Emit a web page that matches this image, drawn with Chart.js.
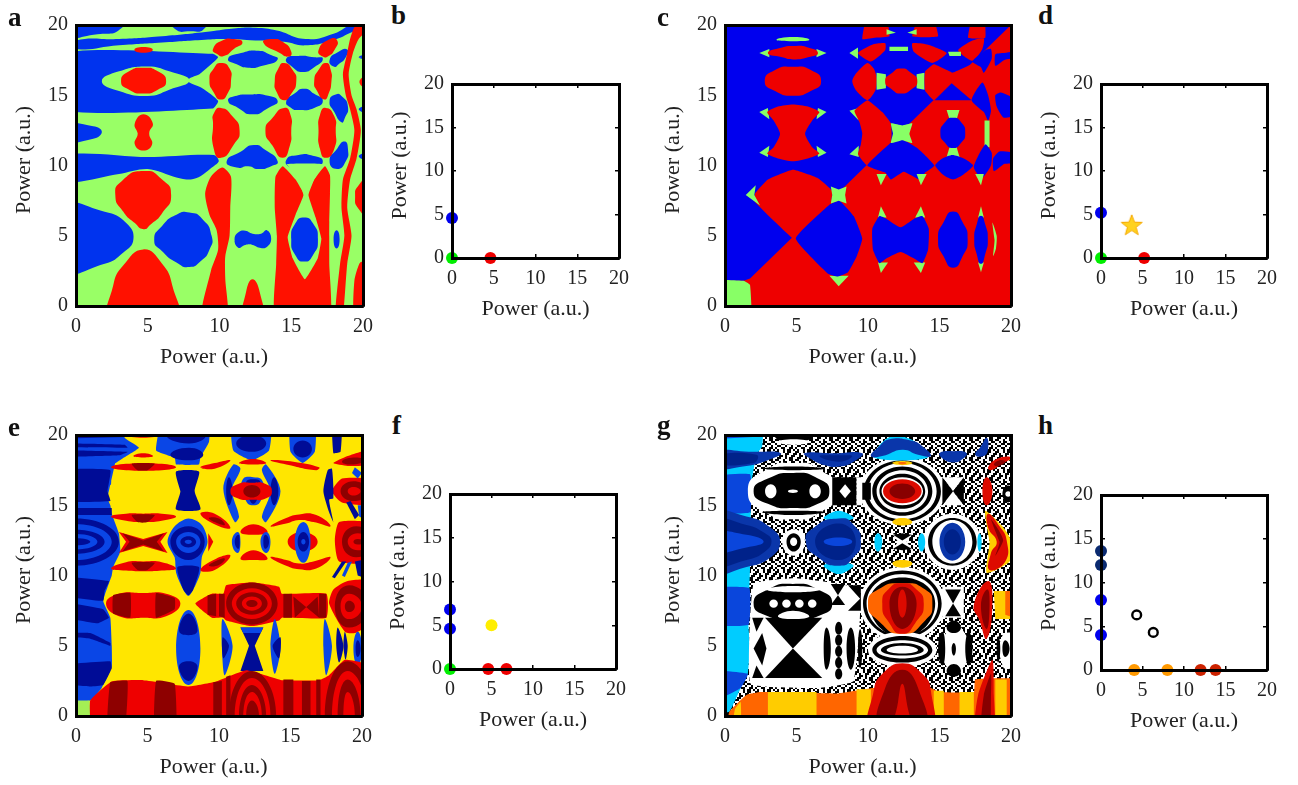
<!DOCTYPE html>
<html><head><meta charset="utf-8">
<style>
html,body{margin:0;padding:0;background:#fff;width:1298px;height:785px;overflow:hidden}
canvas{position:absolute;filter:blur(0.5px)}
.lab{position:absolute;font:bold 27px "Liberation Serif",serif;color:#111;line-height:27px}
</style>
<script src="https://cdn.jsdelivr.net/npm/chart.js@4"></script>
</head><body>
<script>
const axisTicks=[0,5,10,15,20];
const axisTitle="Power (a.u.)";
const panelLetters=["a","b","c","d","e","f","g","h"];
const FULL=[-1,-1,21,-1,21,21,-1,21];

const coloursA={G:"#99FF66",B:"#0033EE",R:"#FF1100"};
const regionsA=[
["G",FULL,0],
["B",[-1,19.35,1.5,19.35,3.2,19.8,3.4,21,-1,21]],
["B",[6.3,21,6.8,19.8,8,19.55,9,19.8,9.3,21]],
["B",[0,18.9,3,19,6,19.2,9,19.5,11,19.75,12.5,19.8,14,19.6,16,19,18,19.4,19.3,20.1,20.5,20.3,20.5,19.9,19.5,19.6,18,18.95,16,18.55,14.5,18.8,12.5,18.9,10.5,19,9,18.95,6,18.75,3,18.55,0,18.3],0.5],
["B",[-1,17.95,9.5,17.95,9.9,17.7,9.3,17.1,8.6,16.5,7.9,16.2,7.9,15.9,8.8,15.5,9.9,14.6,9.5,14.05,-1,14],0.2],
["G",[1.8,16,3,16.7,5,17.05,6.5,16.7,7.9,16.05,6.5,15.4,5,14.95,3,15.3],0.5],
["B",[-1,10.7,5,10.6,9.6,10.75,9.95,10.3,9.4,9.8,8.7,9.25,8,9,7,9.15,5,9.75,3,9.4,-1,8.85],0.3],
["B",[-1,7.05,2,6.7,3.5,5.9,4,4.75,3.3,3.8,2,3,-1,2.55],0.5],
["B",[5.45,4.7,6,5.7,7,6.5,7.9,6.65,8.8,6.2,9.45,5,9.3,4,8.7,3.2,7.9,2.77,7,3.1,6,3.9]],
["B",[11.05,4.8,11.4,5.3,11.8,5.35,12.3,5.15,12.9,5.15,13.3,5.4,13.6,4.8,13.3,4.2,12.8,4.15,12.3,4.35,11.8,4.35,11.3,4.15],0.5],
["B",[10.6,17.6,11.5,18,12.7,18.17,13.5,17.9,14.05,17.55,13,17.1,12,16.95,11.2,17.2]],
["B",[14.65,17.6,15.5,17.8,16.6,17.7,17.2,17.6,16.6,17,15.8,16.66,15.1,17]],
["B",[17.67,17.5,18.3,18.1,18.9,18.25,18.8,17.7,18.3,17.2,18,17.03]],
["B",[10.6,14.6,11.1,14.95,12.2,15.05,13.2,15,14.05,14.6,13.4,14.1,12.3,13.64,11.3,14.1]],
["B",[14.65,14.55,15.2,15.1,15.9,15.47,16.6,15.1,17.2,14.6,16.6,14.1,15.5,13.95,15,14.1]],
["B",[17.67,14.6,18.1,15.05,18.5,14.95,18.95,14.2,18.7,13.3,18.5,13.07,18,13.8]],
["B",[10.5,10.3,11.5,11,12.4,11.46,13.2,11.1,14.05,10.3,13.6,9.95,12.7,9.75,12,9.95,11.2,9.85]],
["B",[14.65,10.4,15.5,10.75,16.5,10.7,17.2,10.3,16.5,9.75,15.8,9.6,15,9.8]],
["B",[17.67,10.3,18.2,11.2,18.7,11.7,18.95,11.2,18.8,10.3,18.2,9.75]],
["B",[-1,12.9,1.2,12.8,1.8,12.4,1.2,11.9,-1,11.76],0.5],
["B",[19.7,17.7,20.5,17.9,20.5,17.6]],
["B",[19.7,14,20.5,14.2,20.5,13.75]],
["B",[19.7,10.65,20.5,10.9,20.5,10.4]],
["R",[4.07,18.24,4.7,18.44,5.35,18.24,4.7,18.03]],
["R",[9.55,18.3,10.2,18.9,11,19,11.6,18.75,11,18.3,10.3,17.8,9.8,17.95]],
["R",[13.05,18.75,13.7,19,14.4,18.8,15,18.1,14.8,17.75,14.2,18]],
["R",[16.9,18.2,17.6,18.95,18.2,18.9,18,18.2,17.6,17.8,17.2,17.75]],
["R",[19.5,20,19.1,19,18.9,18,18.6,16.5,18.8,15,19.1,14,19.4,12.5,19.1,10.5,18.6,9,18.5,7,18.7,5,18.4,3,18.05,-1,18.55,-1,18.9,3,19.2,5,18.9,7,19.1,9,19.55,10.5,19.85,12.5,19.55,14,19.2,15,19,16.5,19.3,18,19.7,19,20.5,19.8,20.5,20],0.2],
["R",[19.75,15.95,20.5,16.4,20.5,15.5]],
["R",[19.4,-1,19.4,1.8,19.8,3.1,20.5,3.2,20.5,-1],0.2],
["R",[20.5,9.2,19.7,8.6,19.45,7.8,19.7,6.9,20.5,6.3]],
["R",[9.3,16.1,9.6,16.9,10.1,17.3,10.7,16.9,10.8,16,10.6,15.2,10.1,14.7,9.6,15.2]],
["R",[13.85,16,14.1,16.9,14.5,17.3,15.1,16.8,15.35,16,15,15.1,14.5,14.65,14,15.2]],
["R",[16.6,16,16.9,16.8,17.45,17.3,17.75,16.8,17.8,16,17.6,15.1,17.3,14.7,16.8,15.3]],
["R",[9.55,13,9.6,13.7,10.1,14.1,10.9,13.5,11.4,12.5,11,11.5,10.1,10.55,9.6,11.2]],
["R",[13.2,12.5,13.7,13.4,14.5,14.1,14.95,13.6,15,12.5,14.9,11.4,14.4,10.55,13.7,11.4]],
["R",[16.9,12.5,17,13.6,17.4,14.1,18,13.5,18.1,12.5,18,11.2,17.4,10.55,17,11.2]],
["R",[4.1,13,4.7,13.64,5.35,13,5.1,12.3,5.3,11.5,4.7,11.07,4.1,11.5,4.3,12.3],0.5],
["R",[3.14,16,3.7,16.7,4.7,16.96,5.7,16.7,6.28,16,5.7,15.4,4.7,15.13,3.7,15.4]],
["R",[2.74,7.9,3.2,8.9,4.7,9.6,6,9,6.63,7.9,6,6.6,5.2,5.8,4.7,5.47,4.1,5.9,3.3,6.7]],
["R",[2.45,-1,2.6,1.5,3.3,2.9,4.7,4.03,6,3,6.7,1.5,6.95,-1],0.5],
["R",[10.2,9.85,9.4,9.2,9,8,9.3,6.5,9.8,5.4,9.9,4,9.4,2.5,8.75,-1,10.5,-1,10.4,2,10.4,3.5,10.7,5,10.75,7,10.8,9.2],0.25],
["R",[11.7,-1,11.85,1,12.3,1.9,12.8,1,12.95,-1],0.5],
["R",[14.4,9.95,13.9,9.2,13.85,7,14,5,13.95,3,13.9,-1,17.67,-1,17.65,3,17.65,6,17.7,8,17.7,9.3,17.35,9.95,16.6,9,16,7.9,15.3,9],0.15],
["G",[14.7,10.1,15.4,9.2,15.85,7.9,15.3,6.5,14.75,4.9,15.1,3.4,15.95,1.9,16.85,3.4,17.1,4.8,16.7,6.3,16.2,7.9,16.6,9,17.2,10.1],0.1],
["B",[15,4.75,15.3,5.9,15.9,6.3,16.5,5.9,16.86,4.75,16.5,3.6,15.9,3.16,15.3,3.6]],
["B",[17.95,4.75,18.16,5.4,18.37,4.75,18.16,4.1]]
];

const coloursC={G:"#88FF66",B:"#0000EE",R:"#EE0000"};
const regionsC=[
["R",FULL,0],
["B",[-1,1.8,1.3,1.8,1.75,1.95,2.2,2.4,20.2,20.2,20.2,21,-1,21],0],
["G",[-1,-1,-1,1.8,1.3,1.8,1.75,1.5,1.8,-1],0.1],
["R",[4.8,4.75,2.1,7.4,2.1,8,3,9,4.75,9.7,6.5,9.1,7.5,8.2,7.4,7.4,5,5],0.12],
["G",[1.45,7.9,2.15,8.6,2.05,7.9,2.45,7.15],0],
["G",[7.3,2.15,8.65,2.15,7.95,1.4],0],
["B",[4.95,4.8,7.3,7.2,8,7.5,9,6.4,9.6,4.8,9.2,3.5,8.6,2.4,7.9,2.1,7.2,2.3],0.12],
["G",[7.4,8.5,7.95,8.3,8.5,8.5,8.4,7.9,8.5,7.3,7.95,7.5,7.4,7.3,7.5,7.9],0],
["G",[3.6,18.95,4.8,19.15,5.9,18.95,4.8,18.85]],
["G",[2.4,18,3.1,18.3,3.1,17.7],0],["G",[7.1,18,6.4,18.3,6.4,17.7],0],
["R",[3,18,4,18.4,4.8,18.5,5.8,18.4,6.5,18,5.8,17.7,4.8,17.55,4,17.7]],
["R",[2.78,16,3.5,16.8,4.75,17.03,6,16.8,6.72,16,6,15.3,4.75,14.97,3.5,15.3]],
["G",[2.4,13.8,3,14.1,3.1,13.3],0],["G",[7.1,13.8,6.5,14.1,6.4,13.3],0],["G",[2.4,10.9,3.1,11.4,3,10.6],0],["G",[7.1,10.9,6.4,11.4,6.5,10.6],0],
["R",[2.95,13.8,3.7,14.2,4.75,14.35,5.8,14.2,6.6,13.8,6.1,13.2,5.6,12.25,6.1,11.3,6.6,10.85,5.8,10.5,4.75,10.3,3.7,10.5,2.95,10.85,3.4,11.3,3.85,12.25,3.4,13.2],0.2],
["R",[9.6,19,10.5,19.1,11.5,19.2,11.2,21,10,21],0.1],
["G",[11.3,19.7,11.95,19.45,11.3,19.3],0],
["R",[13.1,19.2,14.9,19.2,14.4,21,13.7,21],0.1],
["G",[12.75,19.45,13.4,19.7,13.4,19.3],0],
["R",[17,19.1,18.2,19.1,18.1,21,17.4,21],0.1],
["G",[8.7,18,9.3,18.4,9.3,17.6],0],
["R",[9.3,18,10.3,18.6,11.2,18.7,11.2,18.2,10.2,17.4],0.2],
["R",[13.1,18.7,14.2,18.6,15.5,18,14.5,17.3,13.2,18.1],0.2],
["R",[16.3,18.2,17.3,18.9,18.1,19.05,18,18.3,17.3,17.45],0.2],
["G",[11.5,18.45,12.8,18.45,12.8,18.15,11.5,18.15],0],
["G",[15.6,18.1,16.5,18.1,16.5,17.8,15.7,17.8],0],
["R",[9.96,17.3,9.2,16.6,8.9,16,9.2,15.3,9.96,14.65,10.5,15.3,10.6,15.8,10.6,16.3,10.4,16.9],0.25],
["G",[10.6,16.6,11.25,16.5,11.25,15.5,10.6,15.4],0],
["G",[13.4,16.5,13.95,16.6,13.95,15.4,13.4,15.5],0],
["R",[11.2,16,11.7,16.6,12.3,16.9,13,16.6,13.45,16,13,15.4,12.3,15.13,11.7,15.4]],
["R",[14.6,17.2,15.9,16.6,17.3,17.2,17.8,16.5,17.75,15.8,17.3,14.65,16.2,15.3,15.7,15.7,14.6,14.65,14,15.3,13.95,16,14,16.7],0.1],
["B",[15.85,15.85,17.25,14.65,14.65,14.65],0],
["G",[8.7,13.9,9.35,14.1,9.35,13.2],0],["G",[8.7,10.8,9.35,11.4,9.35,10.6],0],
["R",[9.96,14.65,11,13.8,11.6,13,11.65,12.3,11.6,11.65,9.96,10,9.3,10.8,9.5,11.5,9.6,12.3,9.4,13.1,9.05,13.9],0.12],
["B",[9.95,10,11.7,11.7,12.4,11.85,13.5,11.2,14.65,10,14,9.5,13.6,9,12.5,9.55,11.6,9,11.2,9.5],0.12],
["G",[11.6,13,12.4,12.85,13.1,13,12.9,12.25,13.1,11.6,12.4,11.8,11.6,11.6,11.75,12.3],0.1],
["G",[15.5,13.95,16.4,13.95,16.2,13.3,15.7,13.3],0],["G",[15.5,10.6,16.4,10.6,16.2,11.3,15.7,11.3],0],
["G",[18.15,13.2,18.5,13.2,18.5,11.3,18.15,11.3],0],
["B",[15.06,12.3,15.4,13.1,15.93,13.4,16.5,13.1,16.8,12.3,16.5,11.6,15.93,11.24,15.4,11.6]],
["B",[14.7,10,15.2,10.5,15.9,10.75,16.7,10.5,17.35,10,16.6,9.3,15.95,9,15.3,9.3],0.2],
["B",[17.4,9.9,18.2,11.5,18.65,10.9,18.6,10,17.95,9.1],0.2],
["B",[18.8,9.6,18.75,10.5,19.2,11,20.5,10.8,20.5,10.2,19.5,10.1],0.2],
["B",[17.25,14.65,18,15.9,18.4,15,18.6,13.9,18.4,13.2,18.1,13.8],0.2],
["B",[18.9,15,19.3,15.2,20.5,14.6,20.5,13.7,19.5,13.4,19,14.2],0.2],
["B",[17.3,17.4,17.9,17,18.1,16.6,18.65,17.6,18.6,18.3,18.2,18.2],0.2],
["B",[18.9,17.1,18.9,17.9,19.4,18,20.5,18.1,20.5,17.7,19.5,17.5],0.2],
["G",[10.7,6.3,10.9,7.1,11.3,6.3],0],["G",[13.3,6.3,13.7,7.1,14,6.3],0],["G",[10.7,3.1,10.9,2.35,11.4,3.1],0],["G",[13.2,3.1,13.7,2.35,14,3.1],0],
["B",[10.8,6.4,10.3,5.5,10.35,4,10.8,3.05,11.3,3.4,12.28,3.85,13.2,3.4,13.8,3.05,14.2,4,14.25,5.5,13.8,6.4,13.2,6.2,12.28,5.6,11.3,6.2],0.15],
["B",[14.9,4.75,15.3,6,15.95,6.73,16.6,6,16.97,4.75,16.6,3.5,15.95,2.72,15.3,3.5]],
["G",[17.7,6.3,17.9,7.1,18.1,6.3],0],["G",[17.7,3.1,17.9,2.4,18.1,3.1],0],
["B",[17.43,4.75,17.6,5.8,17.9,6.43,18.2,5.8,18.38,4.75,18.2,3.7,17.9,3,17.6,3.7]],
["G",[18.7,5.95,19,5,18.95,4.1,18.75,3.55,18.85,4.7],0.2],
["G",[10.6,9.4,10.9,8.6,11.3,9.4],0],["G",[13.4,9.4,13.7,8.6,14.1,9.4],0],["G",[17.5,9.4,17.9,8.6,18.1,9.4],0]
];

const coloursE={B:"#0A46E6",N:"#000C96",Y:"#FFE600",R:"#EE0000",D:"#8E0000",L:"#A4EE55"};
const regionsE=[
["Y",FULL,0],
["B",[-1,21,3.4,21,3.4,19.8,4.4,19.1,3.2,18.3,2.5,17.8,2.45,16.5,2,16,2.4,15,2.5,14.4,3,13,3.1,11.7,2.6,10.6,2.5,10,1.9,8.2,2.4,7,2.5,5,2.5,3.5,1.8,2,1,1.1,-1,1.1],0.1],
["N",[-1,21,3.4,21,3.4,19.85,-1,19.75],0],["N",[-1,19.4,3.4,19.3,3.6,19.1,-1,19.15],0.1],["N",[-1,18.9,3.6,18.8,3,18.55,-1,18.45],0.1],
["N",[-1,17.5,2.4,17.5,2.2,16,2.4,15.3,-1,15.3],0.1],["N",[-1,14.8,2.5,14.8,2.5,14.3,-1,14.3],0],
["N",[-3.2,12.4,0,14.05,3,12.4,0,10.7],0.55],["B",[-2.6,12.4,0,13.65,2.5,12.4,0,11.1],0.55],["N",[-2,12.4,0,13.25,2,12.4,0,11.55],0.55],["B",[-1.5,12.4,0,12.95,1.5,12.4,0,11.85],0.55],["N",[-1,12.4,0,12.65,1,12.4,0,12.15],0.55],
["N",[-1,9.9,2.3,9.6,2,8.9,1.9,8.2,-1,8.6],0.1],["N",[-1,8.1,1.9,7.6,2.3,7,1.5,6.6,-1,7.1],0.1],
["N",[-1,5.9,1,5.9,2.4,5.2,2.4,5,1,5.5,-1,5.7],0.1],["N",[-1,3.6,2.4,3.9,2.5,3.4,1.9,2.2,1,2.1,-1,2.3],0.1],
["B",[5.6,18.9,6.9,18.4,7,17.9,8.6,17.9,8.7,18.4,9.3,19.5,9.3,21,6,21],0.1],
["N",[6.3,20,7.9,20.4,9.1,20,7.9,19.4],0.55],["N",[6.6,18.6,7.9,19.1,8.9,18.6,7.9,18.2],0.55],
["N",[7,17.4,8.6,17.4,8.3,16,8.7,14.7,7,14.7,7.3,16],0.2],
["B",[6.4,12.4,6.9,13.5,7.86,14.05,8.8,13.6,9.2,12.4,8.8,11.3,8.7,10.2,8.2,9,7.86,8.55,7.5,9,7,10.2,6.9,11.3],0.3],
["N",[6.6,12.4,7.86,13.5,9,12.4,7.86,11.1],0.55],["B",[7,12.4,7.86,13.1,8.7,12.4,7.86,11.6],0.55],["N",[7.3,12.4,7.86,12.8,8.4,12.4,7.86,12],0.55],["B",[7.6,12.4,7.86,12.55,8.1,12.4,7.86,12.25],0.55],
["N",[7.1,10.6,8.6,10.6,8.2,9,7.86,8.6,7.5,9],0.2],
["B",[7,4.8,7.87,7.55,8.7,4.8,7.87,2.2],0.55],
["N",[7.2,6.1,7.87,7.3,8.5,6.1,7.87,5.75],0.5],["N",[7.2,3.5,7.87,2.5,8.5,3.5,7.87,3.9],0.5],
["B",[10.9,21,13.6,21,13.5,18.9,12.3,18.2,11,18.9],0.15],["N",[11.2,19.4,12.3,20,13.3,19.4,12.3,18.8],0.55],
["B",[15,21,16.7,21,16.7,18.8,15.85,18,15,18.8],0.15],["N",[15.2,19,15.85,19.6,16.5,19,15.85,18.4],0.55],
["N",[17.9,21,18.6,21,18.5,18.8,18,18.7],0.1],
["B",[11,17.9,10.3,16.2,11.1,13.8,11.4,14.2,10.9,16.1,11.5,17.6],0.3],["N",[10.5,16,10.7,17,10.95,16,10.7,15],0.5],
["B",[13.3,17.9,14.3,16,13.3,13.8,13,14.2,13.6,16,13,17.5],0.3],["N",[13.6,16,13.85,17,14.15,16,13.85,15],0.5],
["B",[11.6,16.7,12.4,17,13.1,16.6,13,15.5,12.4,15,11.8,15.5]],["N",[11.9,16.6,12.4,16.85,12.9,16.6,12.4,15.1],0.5],
["R",[10.8,16,11.3,16.5,12.3,16.6,13.3,16.5,13.7,16,13.3,15.5,12.3,15.4,11.3,15.5]],
["D",[11.7,16,12.3,16.45,12.9,16,12.3,15.55],0.55],
["R",[8.7,14.4,9.7,14.4,10.8,13.4,9.8,13.6],0.5],["D",[9.3,14.1,10,14.05,10.4,13.6,9.7,13.8],0.5],
["R",[13.6,13.5,14.7,14.1,15.6,14.35,16.8,14.3,17.8,13.5,16.6,13.8,15.6,13.95,14.7,13.7],0.5],
["R",[8.7,10.4,9.7,10.4,10.8,11.4,9.8,11.2],0.5],["D",[9.3,10.7,10,10.75,10.4,11.2,9.7,11],0.5],
["R",[13.6,11.3,14.7,10.7,15.6,10.45,16.8,10.5,17.8,11.3,16.6,11,15.6,10.85,14.7,11.1],0.5],
["R",[8.7,17.7,9.7,17.6,10.8,18.2,9.7,18],0.5],["R",[13.6,18.2,14.7,17.9,16.8,17.5,17,17.7,15.2,18.1],0.5],
["R",[11.4,18,12.4,18.3,13.3,18,12.4,17.9],0.5],
["R",[11.5,13.1,12.4,13.65,13.4,13.1,12.4,12.9],0.5],["R",[11.5,11.2,12.4,11.8,13.4,11.2,12.4,11.1],0.5],
["R",[9.25,13,9.6,12.4,9.25,11.7],0],
["B",[10.9,12.4,11.3,13.1,11.5,12.4,11.3,11.6],0.55],["N",[11.1,12.4,11.35,12.9,11.45,12.4,11.35,11.9],0.55],
["B",[12.9,12.4,13.3,13.1,13.6,12.4,13.3,11.6],0.55],["N",[13.1,12.4,13.25,12.9,13.5,12.4,13.25,11.9],0.55],
["R",[14.8,12.4,15.8,13.1,16.9,12.4,15.8,11.7],0.55],
["B",[15.3,12.4,15.9,13.8,16.4,12.4,15.9,10.9],0.55],["N",[15.5,12.4,15.9,13.1,16.3,12.4,15.9,11.7],0.55],["B",[15.75,12.4,15.9,12.6,16.05,12.4,15.9,12.2],0.55],
["R",[18.1,12.5,18.4,13.8,20.5,13.7,20.5,11,18.4,11],0.2],["D",[18.6,12.4,19.6,13.5,21,12.4,19.6,11.3],0.55],["R",[19,12.4,19.7,13,20.6,12.4,19.7,11.8],0.55],["D",[19.4,12.4,19.7,12.6,20.2,12.4,19.7,12.2],0.55],
["R",[17.9,16,18.6,16.9,20.5,16.8,20.5,15.1,18.6,15.2],0.2],["D",[18.5,16,19.4,16.7,20.5,16,19.4,15.3],0.55],["R",[19,16,19.4,16.3,19.9,16,19.4,15.7],0.55],
["R",[18,18,19,18.5,20.5,18.9,20.5,17.9,19,17.8],0.2],["D",[18.6,18.1,19.4,18.4,20.2,18.2,19.4,17.9],0.55],
["N",[17.6,17.5,17.9,17.6,18,15.5,17.7,15.4,18,13.8,17.7,14.5,17.3,16],0.2],
["N",[18.9,15.2,19.2,15.3,19.8,14.3,19.5,14],0],["B",[19.5,17.7,20,17.3,19.7,16.9,19.3,17.3],0],["B",[19.7,15,20.2,15,20.2,14,19.8,14.2],0],
["N",[18.6,11,18.9,11,18.1,9.8,17.9,9.9],0],["N",[19.5,11,20,11.1,20,9.9,19.7,10],0],["B",[19,10.9,19.3,11,18.8,9.9,18.6,10],0],
["R",[2.45,14.2,3.5,14.4,4.7,14.4,6,14.4,7,14.2,6,13.9,4.7,13.8,3.5,13.9],0.5],["D",[3.9,14.3,5.5,14.3,5,13.8,4.3,13.8],0.2],
["R",[2.45,10.5,3.5,10.95,4.7,11,6,10.95,7,10.5,6,10.35,4.7,10.3,3.5,10.35],0.5],["D",[3.9,10.9,5.5,10.9,5,10.4,4.3,10.4],0.2],
["R",[2.45,17.7,3.5,17.95,6,17.95,7,17.7,6,17.5,3.5,17.5],0.5],["D",[3.9,17.95,5.5,17.95,5,17.5,4.3,17.5],0.2],
["R",[3.2,20.1,4.7,20.4,6.1,20.1,4.7,19.8],0.5],["R",[4,18.5,4.7,18.7,5.4,18.5,4.7,18.4],0.5],
["R",[3,13.1,4.7,12.6,6.4,13.1,5.9,12.4,6.4,11.6,4.7,12.1,3,11.6,3.5,12.4],0],
["D",[3.25,13,4.7,12.5,6.15,13,5.65,12.4,6.15,11.7,4.7,12.2,3.25,11.7,3.75,12.4],0],
["R",[2.1,8,3,8.7,4.7,8.75,6.3,8.7,7.3,8,6.3,7.1,4.7,7,3,7.1],0.5],
["D",[2.6,8.6,3.8,8.75,3.8,7,2.6,7.3],0.1],["D",[5.6,8.75,6.9,8.4,6.9,7.6,5.6,7],0.1],
["R",[8.35,8,9.5,8.7,10.3,8.7,10.5,9.3,12.3,9.5,14.2,9.2,14.4,8.7,17.5,8.7,17.5,7,14.4,7,14.2,6.8,12.3,6.4,10.5,6.8,10.3,7,9.5,7],0.15],
["D",[9.2,8.6,9.8,8.7,9.8,7.1,9.2,7.2],0],["D",[10,8.7,10.4,8.7,10.4,7,10,7.1],0],
["D",[10.5,8,12.3,9.5,14.1,8,12.3,6.5],0.55],["R",[10.9,8,12.3,9.1,13.7,8,12.3,6.9],0.55],["D",[11.2,8,12.3,8.8,13.4,8,12.3,7.2],0.55],["R",[11.6,8,12.3,8.5,13,8,12.3,7.5],0.55],["D",[11.9,8,12.3,8.25,12.7,8,12.3,7.75],0.55],
["D",[14.5,8.7,15.1,8.7,15.1,7,14.5,7],0],["D",[15.2,8.5,17,7,16.9,8.5,15.3,7],0],["D",[17,8.7,17.5,8.7,17.5,7,17,7],0],
["R",[17.7,8,18,9,19,9.6,20.5,9.6,20.5,6.6,19.5,5.9,18.8,6],0.2],["D",[18.1,7.8,19.1,9.3,20.5,7.8,19.1,6.3],0.55],["R",[18.5,7.8,19.1,8.7,20,7.8,19.1,6.9],0.55],["D",[18.8,7.8,19.1,8.2,19.5,7.8,19.1,7.4],0.55],
["B",[19.4,4.8,19.7,6,20,4.8,19.7,3.6],0.55],["N",[19.55,4.8,19.7,5.4,19.9,4.8,19.7,4.2],0.55],
["B",[10.25,6.9,10.95,5,10.4,2.9,10.2,4.9],0.3],["N",[10.25,5.6,10.7,5,10.3,4.1],0.3],
["N",[11.5,6.3,13.1,6.3,12.5,5,13.1,3.2,11.5,3.2,12.1,5],0],["B",[11.5,6.3,13.1,6.3,12.9,5.9,11.7,5.9],0],
["B",[13.9,6.9,13.6,5,13.9,3,14.3,4.9],0.3],["N",[14.3,5.6,13.75,5,14.2,4.1],0.3],
["B",[17.4,6.9,17.9,5,17.5,2.9,17.3,4.9],0.3],["N",[18.3,6.3,18.7,5,18.4,3.8,18.2,5],0.3],["N",[18.8,6,19,5,18.85,4,18.7,5],0.3],
["R",[1,-1,1,1.1,2.5,2.45,4.7,2.55,7.9,2.1,9.8,2.45,11.9,3.25,14.4,2.55,17,2.55,17.7,2.9,18.8,4,20.5,3.6,20.5,-1],0.12],
["L",[-1,-1,-1,1.1,0.95,1.1,1,-1],0],
["D",[2.2,-1,2.4,2.4,3.6,2.5,3.4,-1],0.1],["D",[5.5,-1,5.6,2.5,6.9,2.3,7,-1],0.1],
["D",[9.6,-1,9.6,2.4,10.2,2.5,10.2,-1],0],["D",[10.5,-1,10.5,2.8,10.8,2.9,10.8,-1],0],
["D",[10.7,0,12.3,3.2,14,0,12.3,-3.2],0.55],["R",[11.1,0,12.3,2.7,13.6,0,12.3,-2.7],0.55],["D",[11.4,0,12.3,2.2,13.3,0,12.3,-2.2],0.55],["R",[11.7,0,12.3,1.7,13,0,12.3,-1.7],0.55],["D",[11.9,0,12.3,1.1,12.8,0,12.3,-1.1],0.55],
["D",[14.5,-1,14.5,2.6,15.2,2.6,15.2,-1],0],["D",[15.8,-1,15.8,2.5,16.4,2.5,16.4,-1],0],["D",[16.8,-1,16.8,2.6,17.1,2.6,17.1,-1],0],
["D",[17.4,0,19,3.9,20.8,0,19,-3],0.55],["R",[17.9,0,19,3.2,20.3,0,19,-3],0.55],["D",[18.3,0,19,2.6,19.9,0,19,-3],0.55],["R",[18.7,0,19,1.7,19.5,0,19,-3],0.55]
];

const coloursG={C:"#00CCFF",B:"#0A46DC",M:"#0A36AA",N:"#00228A",K:"#000000",W:"#FFFFFF",O:"#FF6600",A:"#FFCC00",R:"#DD0A00",D:"#880000",P:"noise"};
const noiseTile=["KKWWKWKKWW","KWKWWKKWWK","WWKKWKWWKK","WKKWWKWKKW","KKWWKWWKKW","WWKWKKWWKK","KWWKKWKKWW","WKKWWKWWKW","KWWKKWWKKW","WKWWKWKKWK"];
const regionsG=[
["P",FULL,0],
["W",[9.4,16,12.4,18.4,15.4,16,12.4,13.6],0.55],["K",[9.7,16,12.4,18.2,15.1,16,12.4,13.8],0.55],["W",[10,16,12.4,18,14.8,16,12.4,14],0.55],["K",[10.3,16,12.4,17.75,14.5,16,12.4,14.25],0.55],["W",[10.6,16,12.4,17.5,14.2,16,12.4,14.5],0.55],["K",[10.8,16,12.4,17.25,14,16,12.4,14.75],0.55],["W",[10.95,16,12.4,17,13.85,16,12.4,15],0.55],
["W",[9.4,8,12.4,10.6,15.4,8,12.4,5.3],0.55],["K",[9.65,8,12.4,10.35,15.15,8,12.4,5.55],0.55],["W",[9.9,8,12.4,10.1,14.9,8,12.4,5.7],0.55],["K",[10.1,8,12.4,9.85,14.7,8,12.4,5.6],0.55],
["W",[10,4.7,12.4,6,14.8,4.7,12.4,3.5],0.55],["K",[10.3,4.7,12.4,5.7,14.5,4.7,12.4,3.8],0.55],["W",[10.6,4.7,12.4,5.4,14.2,4.7,12.4,4.1],0.55],["K",[10.9,4.7,12.4,5.2,13.9,4.7,12.4,4.3],0.55],["W",[11.3,4.7,12.4,5,13.5,4.7,12.4,4.45],0.55],
["W",[13.9,12.4,15.9,14.4,17.9,12.4,15.9,10.4],0.55],["K",[14.2,12.4,15.9,14.1,17.6,12.4,15.9,10.7],0.55],["W",[14.5,12.4,15.9,13.95,17.3,12.4,15.9,10.85],0.55],
["W",[4,12.4,4.8,13.3,5.6,12.4,4.8,11.4],0.55],["K",[4.3,12.4,4.8,13,5.3,12.4,4.8,11.7],0.55],["W",[4.55,12.4,4.8,12.7,5.05,12.4,4.8,12.1],0.55],
["C",[-1,21,2.6,21,2.6,19.2,1.8,18,1.75,16,1.75,15,1.8,14.5,1.75,10.5,1.7,9,1.6,7,1.75,5,1.6,3,1.1,2,0.3,0.3,-1,0.3],0.1],
["B",[-1,21,2.6,21,2.6,19.9,-1,19.7],0],["B",[-1,17,1.75,17.2,1.75,14.5,-1,14.5],0.1],
["B",[-1,9.1,1.7,9.1,1.65,6.5,-1,6.5],0.1],["B",[-1,3.2,1.6,3,1.1,2,-1,1],0.1],
["W",[1.6,16,3,17.6,4.8,18,6.5,17.6,7.9,16,6.5,14.4,4.8,14,3,14.4]],
["K",[2,16,3,16.9,4.8,17.3,6.5,16.9,7.3,16,6.5,15.1,4.8,14.8,3,15.1]],
["W",[2.8,16,3.2,16.5,3.6,16,3.2,15.5],0.55],["W",[5.9,16,6.3,16.5,6.7,16,6.3,15.5],0.55],["W",[4.4,16,4.75,16.12,5.1,16,4.75,15.88],0.55],
["K",[2.6,17.6,4.8,17.75,7,17.6,4.8,17.5],0.5],["K",[2.6,14.5,4.8,14.3,7,14.5,4.8,14.6],0.5],
["K",[7.5,17,9.2,17,9.2,15,7.5,15],0],["W",[8,16,8.4,16.5,8.8,16,8.4,15.5],0],["W",[9.2,17,9.6,17,9.6,15,9.2,15],0],["K",[9.6,16.6,10.2,16.6,10.2,15.4,9.6,15.4],0],
["K",[3.5,19.9,4.8,19.5,6.1,19.9,4.8,20.3],0.55],["W",[3.7,19.5,4.8,19.7,5.9,19.5,4.8,19.3],0.55],
["W",[1.8,2.3,6.5,2,9,2.5,9.4,9,5,9.8,2,9.4],0.1],
["K",[2.8,7,6.8,7,4.75,4.8],0],["K",[2.8,2.7,6.8,2.7,4.75,4.8],0],
["K",[2,4.8,2.6,5.9,2.9,4.8,2.6,3.6],0],["K",[1.9,7,2.7,7,2.2,6],0],["K",[1.9,2.7,2.7,2.7,2.2,3.6],0],
["K",[2,8,3,9,4.75,9.4,6.5,9,7.5,8,6.5,7.1,4.75,6.9,3,7.1]],
["W",[3.1,8,3.4,8.3,3.7,8,3.4,7.7],0.55],["W",[4,8,4.3,8.3,4.6,8,4.3,7.7],0.55],["W",[4.9,8,5.2,8.3,5.5,8,5.2,7.7],0.55],["W",[5.8,8,6.1,8.3,6.4,8,6.1,7.7],0.55],
["W",[2.8,9,4.75,9.25,6.7,9,4.75,8.8],0.5],["W",[3.7,7.1,4.75,7.5,5.9,7.1,4.75,6.9],0.5],
["K",[7.7,6.2,7.95,6.7,8.2,6.2,7.95,5.8],0.55],["K",[7.7,5.4,7.95,5.8,8.2,5.4,7.95,5],0.55],["K",[7.7,4.6,7.95,5,8.2,4.6,7.95,4.2],0.55],["K",[7.7,3.8,7.95,4.2,8.2,3.8,7.95,3.4],0.55],["K",[7.7,3,7.95,3.4,8.2,3,7.95,2.6],0.55],
["K",[6.9,4.8,7.1,6.3,7.4,4.8,7.1,3.3],0.55],["K",[8.5,4.8,8.8,6.3,9.1,4.8,8.8,3.3],0.55],["K",[9.3,4.8,9.45,6.2,9.6,4.8,9.45,3.4],0.55],
["K",[7.4,9.4,8.4,9.4,7.9,8.6],0],["K",[7.4,7.9,8.4,7.9,7.9,8.6],0],["K",[8.6,9.3,9.5,9.3,9.5,8.3],0],["K",[8.6,7.5,9.5,7.5,9.5,8.4],0],
["W",[15.1,4.8,15.5,6,16,6.6,16.7,6,17.1,4.8,16.7,3.5,16,3,15.5,3.5]],
["K",[15.85,4.8,16,5.2,16.15,4.8,16,4.3],0.55],["K",[15.5,6.3,16,6.8,16.5,6.3,16,5.9],0.55],["K",[15.5,3.2,16,3.7,16.5,3.2,16,2.8],0.55],
["K",[14.9,4.8,15.2,6,15.4,4.8,15.2,3.6],0.55],["K",[16.8,4.8,17.05,6,17.3,4.8,17.05,3.6],0.55],
["W",[15.2,9.2,16.7,9.2,16.7,7,15.2,7],0],["K",[15.4,9,16.5,9,15.95,8],0],["K",[15.4,7.1,16.5,7.1,15.95,8],0],
["W",[15.2,17,16.7,17,15.95,16],0],["W",[15.2,15,16.7,15,15.95,16],0],["K",[15.2,17,15.95,16,15.2,15],0],["K",[16.7,17,15.95,16,16.7,15],0],
["K",[19.4,15.8,19.8,16.4,20.2,15.8,19.8,15.2],0.55],["W",[19.6,15.8,19.8,16,20,15.8,19.8,15.6],0.55],
["W",[19.1,4.8,19.5,5.9,20.5,5.9,20.5,3.4,19.5,3.4],0.1],["K",[19.4,4.8,19.6,5.4,19.9,4.8,19.6,4.2],0.55],["K",[19,4.8,19.1,5.7,19.25,4.8,19.1,3.8],0.55],
["M",[-1,18.75,2,18.8,3.9,18.7,3,18.2,1.5,17.8,-1,17.7],0.5],["N",[-1,18.5,2.2,18.6,2,18,-1,18],0.5],
["M",[5.55,18.7,7.5,18.7,9.6,18.7,9,18.1,8,17.75,7,17.85,6,18.3],0.5],["N",[6.6,18.5,8,18.55,8.9,18.5,8,18.1],0.5],
["C",[10.4,18.4,11.4,19.8,13,19.7,14.2,18.4],0.3],
["M",[10.2,18.5,10.8,19.2,11.5,19.7,13,19.6,13.8,19.2,14.4,18.5,13.5,18.6,12.4,18.95,11,18.5],0.5],
["M",[15,18.7,16,18.85,16.9,18.7,16.5,18.2,16,18.05,15.4,18.2],0.5],
["M",[17.5,18.6,17.9,19.2,18.3,19.8,18.4,19,18.1,18.5],0.5],
["M",[-1,14.4,1.5,14.2,3.2,13.4,3.85,12.4,3.2,11.3,1.5,10.6,-1,10.3],0.5],["N",[-1,13.9,1.5,13.6,2.8,13,3.25,12.45,2.8,11.7,1.5,11.1,-1,10.8],0.5],["B",[-1,13,1.5,12.9,2.7,12.4,1.5,12,-1,11.7],0.5],
["C",[6.9,14.1,7.95,14.6,9,14.1,7.95,13.8],0.3],["C",[6.9,10.7,7.95,10.1,9,10.7,7.95,11],0.3],
["M",[5.65,12.4,6.2,13.4,7.95,14.05,9,13.6,9.5,12.4,9,11.3,7.95,10.7,6.5,11.3]],["N",[6.3,12.4,7.95,13.7,9.15,12.4,7.95,11.1],0.55],["B",[6.9,12.4,7.95,12.7,8.9,12.4,7.95,12.1],0.55],
["M",[15,12.4,15.9,13.75,16.8,12.4,15.9,11.05],0.55],["N",[15.3,12.4,15.9,13.3,16.5,12.4,15.9,11.5],0.55],
["C",[10.45,12.4,10.7,13,11,12.4,10.7,11.7],0.55],["C",[13.5,12.4,13.75,13,14,12.4,13.75,11.7],0.55],["C",[17.65,12.4,17.8,13,17.95,12.4,17.8,11.7],0.55],
["A",[11.7,18,12.4,18.15,13.1,18,12.4,17.85],0.55],["O",[12.1,18,12.4,18.08,12.7,18,12.4,17.9],0.55],
["A",[11.7,13.8,12.4,14.1,13.1,13.8,12.4,13.55],0.55],["A",[11.7,10.85,12.4,11.1,13.1,10.85,12.4,10.55],0.55],
["W",[11.6,13.1,12.4,12.6,13.2,13.1,12.7,12.4,13.2,11.7,12.4,12.2,11.6,11.7,12.1,12.4],0],
["K",[11.75,12.9,12.4,12.5,13.05,12.9,12.4,13],0],["K",[11.75,11.9,12.4,12.3,13.05,11.9,12.4,11.8],0],
["R",[11.05,16,12.4,16.85,13.75,16,12.4,15.15],0.55],["D",[11.5,16,12.4,16.55,13.3,16,12.4,15.45],0.55],
["R",[18,16,18.3,17,18.7,16,18.3,15],0.55],
["O",[10,8,10.7,9,12.4,9.45,14,9,14.5,8,14,6.8,12.4,5.85,10.7,6.8]],
["R",[11,8,11.5,9.1,12.4,9.45,13.3,9.1,13.9,8,13.3,6.6,12.4,5.85,11.5,6.6]],
["D",[11.5,8,12.4,9.2,13.4,8,12.4,6.2],0.55],["R",[12.1,8,12.4,9,12.7,8,12.4,7],0.55],
["R",[17.4,7.9,18.4,9.6,18.7,8,18.3,5.5,17.8,6.8],0.5],["D",[17.9,7.9,18.35,9,18.5,7.9,18.3,6.2],0.5],
["A",[18.8,8.9,20.5,8.9,20.5,6.9,18.9,6.9],0],["O",[19.6,8.9,20.5,8.9,20.5,6.9,19.6,7.2],0],
["A",[18.2,14.6,19.4,13.5,20,12.5,19.9,11,18.3,10.2,18.5,12.4],0.2],
["R",[18.4,14.4,19.2,13.5,19.7,12.5,19.6,11,18.5,10.4,18.6,11.6,19,12.4,18.4,13.4],0.5],["D",[18.6,14,19.1,13.3,19.45,12.5,18.9,11.4,19.2,12.4],0.2],
["A",[19.5,18.2,20.4,18.5,20.2,18.2],0],["R",[18.4,17.7,19,18.3,20,18.4,19.3,17.9,18.6,17.5],0.5],["D",[18.8,17.9,19.2,18.2,19.6,18.1,19.1,17.8],0.5],
["O",[0.2,-1,0.3,0.3,1.5,1.5,2.5,1.7,7.9,1.6,9.7,1.9,10.3,2,14.4,2,15,1.7,17.4,1.7,17.5,2.6,20.5,2.6,20.5,-1],0.1],
["A",[0.5,-1,0.7,0.5,1.1,1,1.1,-1],0.1],["A",[3,-1,3,1.7,6.4,1.7,6.4,-1],0],["A",[9.2,-1,9.2,1.9,10.2,1.9,10.2,-1],0],
["A",[14.6,-1,14.6,1.8,15.3,1.8,15.3,-1],0],["A",[16.4,-1,16.4,1.7,17.4,1.7,17.4,-1],0],["A",[18.9,-1,18.9,2.6,19.7,2.6,19.7,-1],0],
["R",[10.3,-1,10.4,1.8,11,3,12.4,3.75,13.8,3,14.4,1.8,14.25,-1],0.5],["D",[10.9,-1,11.2,2,12.4,3.3,13.5,2,13.9,-1],0.5],["R",[11.9,-1,12.1,1,12.4,2.3,12.7,1,12.9,-1],0.5],
["R",[17.5,-1,17.7,1.5,18.7,4,18.8,1.5,18.8,-1],0.2],["D",[17.9,-1,18.1,1.5,18.6,3,18.6,1.5,18.5,-1],0.2]
];

const pointsB=[["#0000EE",0,4.6],["#00EE00",0,0],["#EE0000",4.6,0]];
const pointsD=[["#0000EE",0,5.2],["#00EE00",0,0],["#EE0000",5.2,0]];
const starD=[[3.7,3.7]];
const pointsF=[["#0000EE",0,6.8],["#0000EE",0,4.6],["#00EE00",0,0],["#EE0000",4.6,0],["#EE0000",6.8,0],["#FFEE00",5,5]];
const pointsH=[["#0A2A70",0,13.6],["#0A2A70",0,12],["#0000EE",0,8],["#0000EE",0,4],["#FF9900",4,0],["#FF9900",8,0],["#CC2200",12,0],["#CC2200",13.8,0]];
const openH=[[4.3,6.3],[6.3,4.3]];

const PAD_L=70,PAD_B=65,PAD_T=14,PAD_R=22;
function makeCanvas(box){
  const c=document.createElement("canvas");
  c.width=box.r-box.l+PAD_L+PAD_R;c.height=box.b-box.t+PAD_T+PAD_B;
  c.style.left=(box.l-PAD_L)+"px";c.style.top=(box.t-PAD_T)+"px";
  document.body.appendChild(c);return c;
}
function axis(pos,main,xTitle){
  const horiz=pos==="bottom"||pos==="top";
  return {type:"linear",position:pos,min:0,max:20,
    afterBuildTicks(s){s.ticks=axisTicks.map(v=>({value:v}));},
    border:{display:true,color:"#000",width:3,z:1},
    grid:{display:true,drawOnChartArea:false,drawTicks:true,tickLength:-4,color:"#000",lineWidth:1.5},
    ticks:{display:main,color:"#222",padding:horiz?13:12,maxRotation:0,autoSkip:false,font:{family:"Liberation Serif",size:20}},
    title:{display:main,text:horiz?xTitle:"  "+axisTitle,color:"#222",padding:{top:5,bottom:1},font:{family:"Liberation Serif",size:22}},
    afterFit(s){ if(horiz) s.height=main?PAD_B:0; else s.width=main?PAD_L:0; }
  };
}
function options(xTitle){
  return {responsive:false,animation:false,events:[],
    layout:{padding:{top:PAD_T,right:PAD_R,left:0,bottom:0}},
    plugins:{legend:{display:false},tooltip:{enabled:false}},
    scales:{x:axis("bottom",true,xTitle),y:axis("left",true),x2:axis("top",false),y2:axis("right",false)}};
}
function noisePattern(){
  const c=document.createElement("canvas");c.width=c.height=20;
  const g=c.getContext("2d");
  noiseTile.forEach((row,y)=>[...row].forEach((k,x)=>{g.fillStyle=k==="K"?"#000":"#fff";g.fillRect(x*2,y*2,2,2);}));
  return g.createPattern(c,"repeat");
}
function regionMap(box,regions,colours){
  const pat=Object.values(colours).includes("noise")?noisePattern():null;
  const datasets=regions.map(spec=>{
    const [key,flat,tensionIn]=spec;
    const pts=[];
    for(let i=0;i<flat.length;i+=2) pts.push({x:flat[i],y:flat[i+1]});
    const tension=tensionIn===undefined?0.62:tensionIn;
    const n=pts.length;
    const data=(tension>0&&n>2)?[pts[n-1],...pts,pts[0],pts[1]]:[...pts,pts[0]];
    const col=colours[key]==="noise"?pat:colours[key];
    return {data,showLine:true,fill:"shape",tension,capBezierPoints:false,backgroundColor:col,borderColor:"rgba(0,0,0,0)",borderWidth:0,pointRadius:0};
  }).reverse();
  new Chart(makeCanvas(box),{type:"scatter",data:{datasets},options:options(axisTitle+"  ")});
}
function starImage(){
  const c=document.createElement("canvas");c.width=c.height=24;
  const g=c.getContext("2d");g.beginPath();
  for(let i=0;i<10;i++){
    const r=i%2?4.6:11,a=-Math.PI/2+i*Math.PI/5;
    g[i?"lineTo":"moveTo"](12+r*Math.cos(a),12+r*Math.sin(a));
  }
  g.closePath();g.fillStyle="#FFD21E";g.fill();g.strokeStyle="#F5A800";g.lineWidth=1;g.stroke();
  return c;
}
function dots(box,pts,stars,opens){
  const datasets=pts.map(p=>({data:[{x:p[1],y:p[2]}],backgroundColor:p[0],borderWidth:0,pointRadius:6,clip:false,showLine:false}));
  if(stars) datasets.push({data:stars.map(p=>({x:p[0],y:p[1]})),pointStyle:starImage(),clip:false,showLine:false});
  if(opens) datasets.push({data:opens.map(p=>({x:p[0],y:p[1]})),backgroundColor:"#fff",borderColor:"#000",borderWidth:2.4,pointRadius:4.4,clip:false,showLine:false});
  new Chart(makeCanvas(box),{type:"scatter",data:{datasets},options:options(axisTitle)});
}
regionMap({l:76,t:15,r:364,b:306},regionsA,coloursA);
dots({l:452,t:74,r:620,b:258},pointsB);
regionMap({l:725,t:15,r:1012,b:306},regionsC,coloursC);
dots({l:1101,t:74,r:1268,b:258},pointsD,starD);
regionMap({l:76,t:425,r:363,b:716},regionsE,coloursE);
dots({l:450,t:484,r:617,b:669},pointsF);
regionMap({l:725,t:425,r:1012,b:716},regionsG,coloursG);
dots({l:1101,t:485,r:1268,b:670},pointsH,null,openH);
const labelPos=[[8,4],[391,2],[657,4],[1038,2],[8,414],[392,412],[657,412],[1038,412]];
panelLetters.forEach((t,i)=>{
  const d=document.createElement("div");d.className="lab";d.textContent=t;
  d.style.left=labelPos[i][0]+"px";d.style.top=labelPos[i][1]+"px";document.body.appendChild(d);
});
</script>
</body></html>
